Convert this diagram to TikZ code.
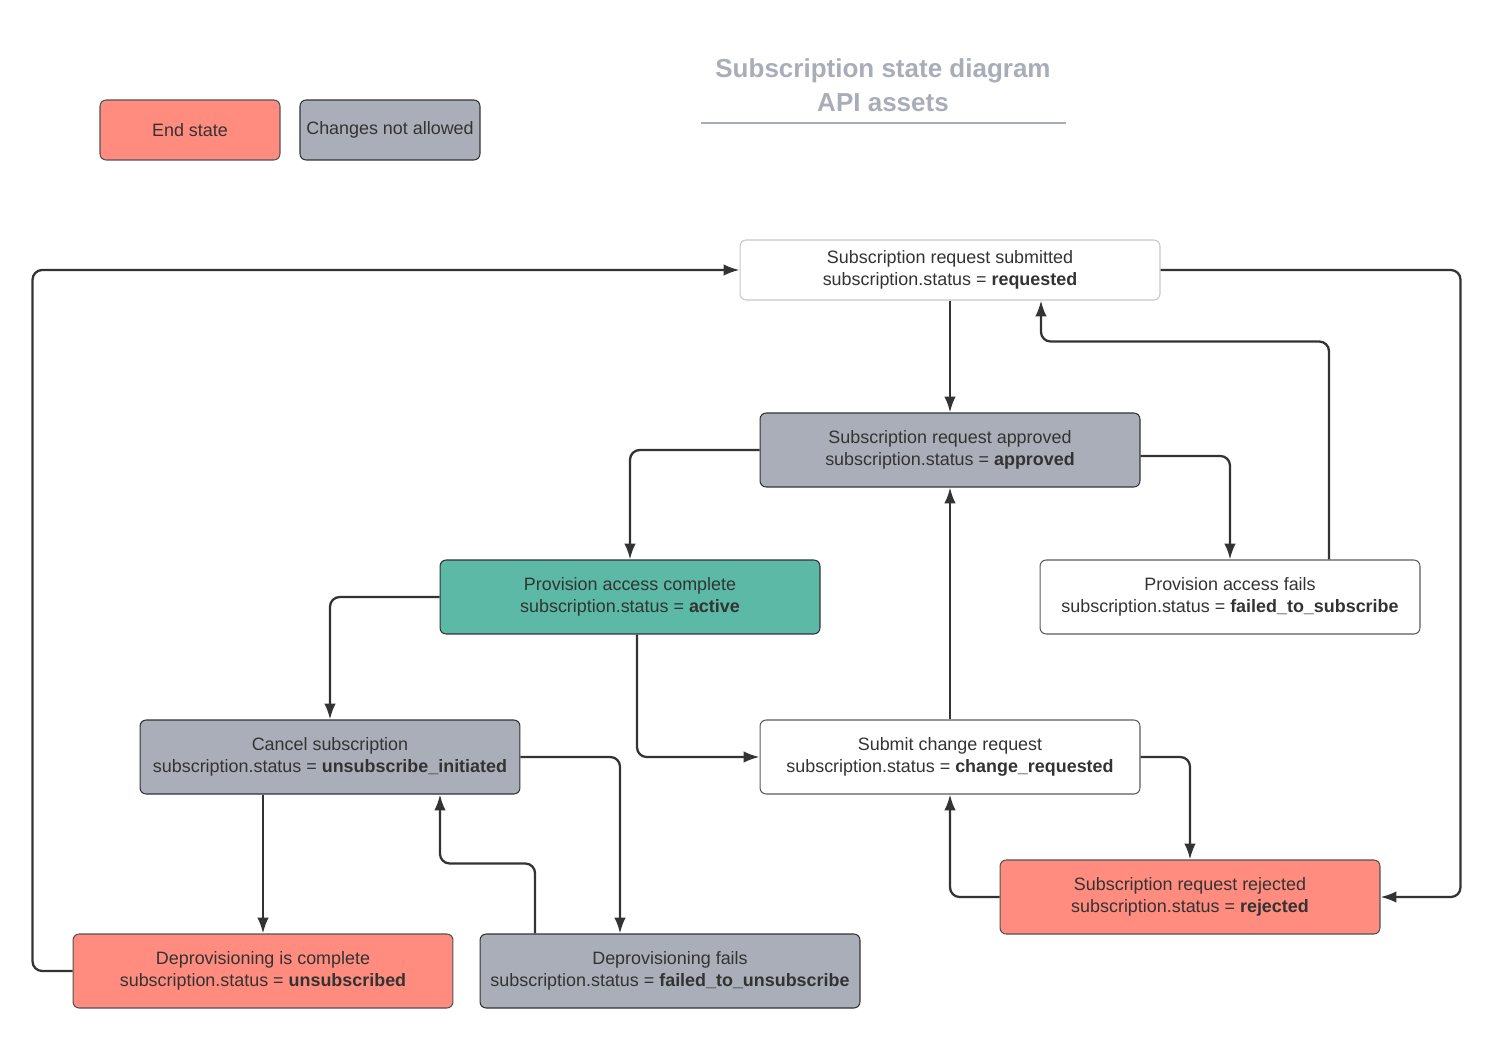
\documentclass[tikz,border=0pt]{standalone}
\usepackage{fontspec}
\setmainfont{Liberation Sans}
\usetikzlibrary{arrows.meta}
\definecolor{endred}{HTML}{FF8C7F}
\definecolor{lockgrey}{HTML}{A9AEB9}
\definecolor{activegreen}{HTML}{5BB9A6}
\definecolor{inkgrey}{HTML}{333333}
\definecolor{titlegrey}{HTML}{A8ADB8}
\begin{document}
\begin{tikzpicture}[x=0.02cm,y=-0.02cm,->,>={Latex[length=9pt,width=6.5pt]},line width=1.3pt,draw=inkgrey,rounded corners=5.5pt,
    state/.style={rectangle,draw,line width=0.6pt,rounded corners=3.5pt,align=center,text=inkgrey,font=\fontsize{10.2}{12.5}\selectfont,minimum width=7.6cm,minimum height=1.48cm,inner sep=0pt},
    end state/.style={state,fill=endred,draw=inkgrey!85},
    locked state/.style={state,fill=lockgrey,draw=inkgrey},
    open state/.style={state,fill=white,draw=inkgrey!80}]
    \useasboundingbox (0,0) rectangle (1510,1040);

    % legend and title
    \node[end state,minimum width=3.6cm,minimum height=1.2cm] (legend end) at (190,130) {End state};
    \node[locked state,minimum width=3.6cm,minimum height=1.2cm] (legend locked) at (390,130) {Changes not allowed};
    \node[align=center,text=titlegrey,font=\bfseries\fontsize{14.8}{19.3}\selectfont] (title) at (883,85) {Subscription state diagram\\API assets};
    \coordinate (rule left) at (701,123);
    \coordinate (rule right) at (1066,123);
    \draw[-,titlegrey,line width=1.2pt] (rule left) -- (rule right);

    % states
    \node[open state,draw=black!22,minimum width=8.4cm,minimum height=1.2cm] (requested) at (950,270) {Subscription request submitted\\subscription.status = \textbf{requested}};
    \node[locked state] (approved) at (950,450) {Subscription request approved\\subscription.status = \textbf{approved}};
    \node[state,fill=activegreen] (active) at (630,597) {Provision access complete\\subscription.status = \textbf{active}};
    \node[open state] (failsub) at (1230,597) {Provision access fails\\subscription.status = \textbf{failed\_to\_subscribe}};
    \node[locked state] (cancel) at (330,757) {Cancel subscription\\subscription.status = \textbf{unsubscribe\_initiated}};
    \node[open state] (change) at (950,757) {Submit change request\\subscription.status = \textbf{change\_requested}};
    \node[end state] (rejected) at (1190,897) {Subscription request rejected\\subscription.status = \textbf{rejected}};
    \node[end state] (unsub) at (263,971) {Deprovisioning is complete\\subscription.status = \textbf{unsubscribed}};
    \node[locked state] (failunsub) at (670,971) {Deprovisioning fails\\subscription.status = \textbf{failed\_to\_unsubscribe}};

    % transitions
    \draw (requested) -- (approved);
    \draw (approved.west) -| (active.north);
    \draw ([yshift=-0.12cm]approved.east) -| (failsub.north);
    \draw ([xshift=1.98cm]failsub.north) |- ([xshift=1.82cm,yshift=-0.82cm]requested.south) -- ([xshift=1.82cm]requested.south);
    \draw (requested.east) -- ++(300,0) |- (rejected.east);
    \draw (active.west) -| (cancel.north);
    \draw ([xshift=0.14cm]active.south) |- (change.west);
    \draw (change) -- (approved);
    \draw (change.east) -| (rejected.north);
    \draw (rejected.west) -| (change.south);
    \draw (cancel.south -| unsub.north) -- (unsub.north);
    \draw (cancel.east) -| ([xshift=-1cm]failunsub.north);
    \draw ([xshift=-2.7cm]failunsub.north) -- ++(0,-70) -| ([xshift=2.2cm]cancel.south);
    \draw (unsub.west) -- ++(-40,0) |- (requested.west);
\end{tikzpicture}
\end{document}
